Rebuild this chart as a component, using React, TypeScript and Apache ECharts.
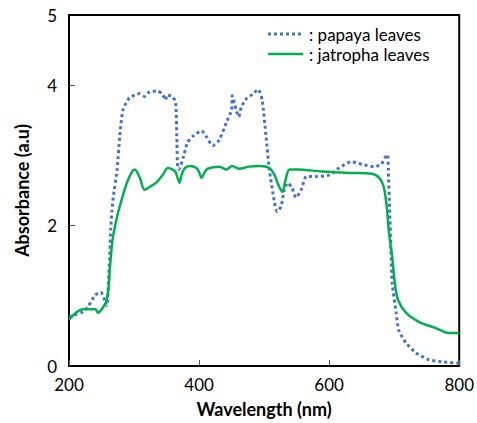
import React, { useEffect, useRef } from "react";
import * as echarts from "echarts";

const xTicks = [200, 400, 600, 800];
const yTickLabels = [0, 2, 4, 5];

const papayaName = ": papaya leaves";
const jatrophaName = ": jatropha leaves";

const papaya: [number, number][] = [
  [200, 0.7], [212, 0.74], [221, 0.77], [229, 0.84], [240, 1.01], [249, 1.05], [254, 0.96],
  [258, 0.86], [260, 1.04], [261, 1.27], [263, 1.65], [264, 1.95], [266, 2.2], [268, 2.4],
  [274, 2.8], [278, 3.27], [283, 3.65], [293, 3.82], [309, 3.88], [316, 3.84], [321, 3.89],
  [335, 3.92], [343, 3.88], [349, 3.79], [350, 3.86], [359, 3.84], [364, 3.75], [366, 3.18],
  [367, 2.84], [369, 2.8], [376, 2.98], [382, 3.18], [390, 3.27], [404, 3.35], [411, 3.27],
  [421, 3.14], [431, 3.22], [442, 3.47], [450, 3.65], [451, 3.85], [457, 3.65], [461, 3.55],
  [465, 3.69], [473, 3.81], [482, 3.87], [491, 3.94], [497, 3.79], [503, 3.27], [508, 2.8],
  [516, 2.33], [520, 2.2], [526, 2.27], [531, 2.51], [536, 2.61], [543, 2.54], [549, 2.4],
  [557, 2.51], [565, 2.7], [580, 2.7], [600, 2.72], [615, 2.82], [634, 2.91], [651, 2.87],
  [669, 2.84], [680, 2.87], [686, 2.97], [690, 3.01], [691, 2.8], [693, 2.23], [695, 1.65],
  [697, 1.18], [703, 0.76], [707, 0.51], [718, 0.33], [733, 0.19], [753, 0.09], [773, 0.06],
  [800, 0.04],
];

const jatropha: [number, number][] = [
  [200, 0.66], [221, 0.81], [241, 0.81], [244, 0.76], [258, 0.94], [263, 1.41], [267, 1.8],
  [274, 2.13], [281, 2.37], [289, 2.61], [297, 2.77], [301, 2.8], [309, 2.68], [316, 2.51],
  [324, 2.55], [335, 2.62], [344, 2.72], [352, 2.82], [359, 2.8], [364, 2.76], [367, 2.68],
  [370, 2.61], [373, 2.72], [378, 2.82], [386, 2.85], [396, 2.82], [400, 2.76], [404, 2.68],
  [408, 2.75], [413, 2.81], [431, 2.84], [442, 2.8], [451, 2.85], [462, 2.81], [477, 2.84],
  [493, 2.85], [508, 2.82], [516, 2.72], [522, 2.58], [528, 2.48], [533, 2.65], [539, 2.8],
  [551, 2.8], [589, 2.77], [631, 2.75], [666, 2.74], [677, 2.68], [684, 2.55], [689, 2.23],
  [692, 1.9], [697, 1.55], [701, 1.18], [706, 0.94], [718, 0.76], [738, 0.63], [764, 0.54],
  [784, 0.47], [800, 0.47],
];

const blue = "#4472C4";
const green = "#00B050";

export default function App() {
  const ref = useRef<HTMLDivElement>(null);
  useEffect(() => {
    if (!ref.current) return;
    const chart = echarts.init(ref.current, undefined, { renderer: "svg" });
    const font = "Lato, 'Open Sans', sans-serif";
    chart.setOption({
      animation: false,
      backgroundColor: "#ffffff",
      grid: {
        left: 69, right: 17, top: 15, bottom: 56,
        show: true, borderColor: "#000", borderWidth: 2,
      },
      graphic: [
        {
          type: "line",
          shape: { x1: 268, y1: 34, x2: 303, y2: 34 },
          style: { stroke: blue, lineWidth: 3, lineDash: [3, 3] },
        },
        {
          type: "text",
          x: 309,
          y: 34,
          style: {
            text: papayaName, fontFamily: font, fontSize: 17, fill: "#000",
            verticalAlign: "middle", lineHeight: 18,
          },
        },
        {
          type: "line",
          shape: { x1: 268, y1: 54, x2: 303, y2: 54 },
          style: { stroke: green, lineWidth: 2.5 },
        },
        {
          type: "text",
          x: 309,
          y: 54,
          style: {
            text: jatrophaName, fontFamily: font, fontSize: 17, fill: "#000",
            verticalAlign: "middle", lineHeight: 18,
          },
        },
      ],
      xAxis: {
        type: "value",
        min: 200,
        max: 800,
        interval: 200,
        name: "Wavelength (nm)",
        nameLocation: "middle",
        nameGap: 34,
        nameTextStyle: { fontFamily: font, fontSize: 18, fontWeight: "bold", color: "#000" },
        axisLine: { lineStyle: { color: "#000", width: 2 } },
        axisTick: { inside: true, length: 6, lineStyle: { color: "#555" } },
        axisLabel: { fontFamily: font, fontSize: 17, color: "#000", margin: 10 },
        splitLine: { show: false },
        data: xTicks,
      },
      yAxis: {
        type: "value",
        min: 0,
        max: 5,
        interval: 1,
        name: "Absorbance (a.u)",
        nameLocation: "middle",
        nameGap: 38,
        nameTextStyle: { fontFamily: font, fontSize: 18, fontWeight: "bold", color: "#000" },
        axisLine: { lineStyle: { color: "#000", width: 2 } },
        axisTick: { inside: true, length: 6, lineStyle: { color: "#555" }, customValues: [2, 4] },
        axisLabel: { fontFamily: font, fontSize: 17, color: "#000", margin: 12, customValues: yTickLabels },
        splitLine: { show: false },
      },
      series: [
        {
          name: papayaName,
          type: "line",
          data: papaya,
          showSymbol: false,
          symbol: "none",
          smooth: 0.2,
          lineStyle: { color: blue, width: 3, type: [3, 3], cap: "butt" },
          itemStyle: { color: blue },
        },
        {
          name: jatrophaName,
          type: "line",
          data: jatropha,
          showSymbol: false,
          symbol: "none",
          smooth: 0.3,
          lineStyle: { color: green, width: 2.5 },
          itemStyle: { color: green },
        },
      ],
    });
    return () => chart.dispose();
  }, []);
  return (
    <div
      ref={ref}
      style={{ position: "fixed", left: 0, top: 0, width: 477, height: 423 }}
    />
  );
}
